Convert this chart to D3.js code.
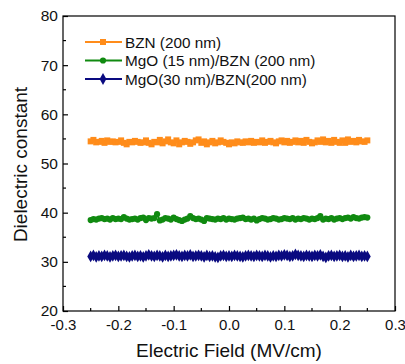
<!DOCTYPE html>
<html><head><meta charset="utf-8">
<script src="https://cdn.jsdelivr.net/npm/d3@7"></script>
<style>body{margin:0;background:#fff;} text{font-family:"Liberation Sans",Arial,sans-serif;}</style>
</head><body>
<svg id="c" width="405" height="364"></svg>
<script>
const xStart = -0.25, xStep = 0.005;
const bzn = [54.5,54.8,54.3,54.4,54.6,54.2,54.7,54.4,54.5,54.3,
54.4,54.7,54.2,53.9,54.4,54.3,54.6,54.4,54.2,54.3,
54.7,54.2,53.9,54.4,54.3,54.8,54.1,54.5,54.9,54.3,
54.1,54.7,53.9,54.3,54.6,54.4,54.0,54.3,54.7,54.9,
54.2,54.5,53.9,54.3,54.6,54.1,54.3,54.7,54.4,54.2,
53.9,54.3,54.1,54.5,54.3,54.2,54.5,54.3,54.6,54.2,
54.4,54.3,54.7,54.2,54.4,54.6,54.3,54.1,54.5,54.7,
54.3,54.6,54.2,54.4,54.7,54.3,54.6,54.2,54.8,54.4,
54.1,54.3,54.7,54.4,54.9,54.3,54.6,54.2,54.8,54.4,
54.2,54.7,54.2,54.9,54.4,54.6,54.3,54.8,54.5,54.4,54.7];
const mgo15 = [38.5,38.7,38.6,38.8,38.9,38.7,38.8,38.6,38.9,38.7,
38.8,38.7,39.1,38.8,38.6,38.7,38.8,38.6,38.9,39.0,
38.5,38.9,38.8,38.9,39.7,38.4,38.6,38.9,38.8,38.6,
39.0,38.7,38.5,38.3,38.6,38.8,39.3,38.9,38.7,38.8,
38.6,38.3,38.9,38.8,38.7,38.6,38.8,38.7,38.9,38.6,
38.8,38.7,38.6,38.8,38.9,39.0,38.7,38.8,38.6,38.8,
38.4,38.7,38.9,38.8,38.6,38.7,38.9,38.8,38.6,38.7,
38.9,38.8,38.7,38.9,38.6,38.8,38.7,38.9,38.8,38.6,
38.8,38.7,38.9,39.3,38.6,38.8,38.7,38.9,38.6,38.8,
38.9,38.7,38.9,39.0,38.8,39.1,38.9,38.8,39.0,39.1,39.0];
const mgo30 = [31.1,31.3,31.0,31.2,31.1,31.3,31.2,31.0,31.2,31.3,
31.1,31.2,31.3,31.1,31.0,31.2,31.3,31.1,31.2,31.0,
31.2,31.4,31.2,31.1,31.3,31.2,31.0,31.3,31.1,31.2,
31.3,31.4,31.2,31.1,31.3,31.2,31.4,31.1,31.2,31.3,
31.2,31.0,31.3,31.1,31.2,31.0,30.9,31.2,31.3,31.1,
31.2,31.1,31.3,31.2,31.1,31.0,31.2,31.3,31.2,31.1,
31.3,31.2,31.1,31.3,31.2,31.0,31.2,31.1,31.3,31.2,
31.4,31.3,31.1,31.2,31.5,31.3,31.2,31.1,31.3,31.2,
31.1,31.3,31.2,31.4,31.1,30.9,31.2,31.3,31.1,31.2,
31.3,31.1,31.2,31.0,31.3,31.1,31.2,31.3,31.1,31.2,31.1];
const seriesNames = ["BZN (200 nm)", "MgO (15 nm)/BZN (200 nm)", "MgO(30 nm)/BZN(200 nm)"];
const xTicks = [-0.3,-0.2,-0.1,0.0,0.1,0.2,0.3];
const yTicks = [20,30,40,50,60,70,80];

const colors = ["#ff8c1a","#108a10","#0a0a80"];
const symbols = [d3.symbolSquare, d3.symbolCircle, d3.symbolDiamond];
const symSizes = [36, 30, 40];
const series = [bzn, mgo15, mgo30];

const svg = d3.select("#c");
const L=63, R=395, T=16, B=311;
const x = d3.scaleLinear().domain([-0.3,0.3]).range([L,R]);
const y = d3.scaleLinear().domain([20,80]).range([B,T]);

svg.append("rect").attr("x",L).attr("y",T).attr("width",R-L).attr("height",B-T)
  .attr("fill","none").attr("stroke","#000").attr("stroke-width",1.2);

const fmt = d => d3.format(".1f")(d).replace("\u2212","-");
const xa = svg.append("g").attr("transform",`translate(0,${B})`);
xa.call(d3.axisBottom(x).tickValues(xTicks).tickFormat(fmt).tickSize(-5).tickPadding(8));
xa.select(".domain").remove();
xa.call(g=>g.selectAll(".tick line").attr("stroke","#000").attr("stroke-width",1.2));
xa.selectAll("text").attr("font-size",15).attr("fill","#111");
const xm = d3.range(-0.25,0.3,0.1);
svg.append("g").selectAll("line").data(xm).join("line")
  .attr("x1",d=>x(d)).attr("x2",d=>x(d)).attr("y1",B).attr("y2",B-3).attr("stroke","#000").attr("stroke-width",1.2);

const ya = svg.append("g").attr("transform",`translate(${L},0)`);
ya.call(d3.axisLeft(y).tickValues(yTicks).tickSize(-5).tickPadding(5));
ya.select(".domain").remove();
ya.call(g=>g.selectAll(".tick line").attr("stroke","#000").attr("stroke-width",1.2));
ya.selectAll("text").attr("font-size",15.5).attr("fill","#111");
const ym = d3.range(25,80,10);
svg.append("g").selectAll("line").data(ym).join("line")
  .attr("y1",d=>y(d)).attr("y2",d=>y(d)).attr("x1",L).attr("x2",L+3).attr("stroke","#000").attr("stroke-width",1.2);

const line = d3.line().x((d,i)=>x(xStart+i*xStep)).y(d=>y(d));
series.forEach((s,k)=>{
  svg.append("path").datum(s).attr("d",line).attr("fill","none").attr("stroke",colors[k]).attr("stroke-width",2);
  svg.append("g").selectAll("path").data(s).join("path")
    .attr("transform",(d,i)=>`translate(${x(xStart+i*xStep)},${y(d)})`)
    .attr("d",d3.symbol().type(symbols[k]).size(symSizes[k]))
    .attr("fill",colors[k]);
});

const lg = svg.append("g");
seriesNames.forEach((n,k)=>{
  const yy = 42 + k*18.5;
  lg.append("line").attr("x1",85).attr("x2",122).attr("y1",yy).attr("y2",yy).attr("stroke",colors[k]).attr("stroke-width",1.8);
  lg.append("path").attr("transform",`translate(103,${yy})`).attr("d",d3.symbol().type(symbols[k]).size(symSizes[k])).attr("fill",colors[k]);
  lg.append("text").attr("x",125).attr("y",yy+5.5).attr("font-size",15.3).attr("fill","#111").text(n);
});

svg.append("text").attr("x",(L+R)/2).attr("y",357).attr("text-anchor","middle").attr("font-size",19).attr("fill","#111").text("Electric Field (MV/cm)");
svg.append("text").attr("transform",`translate(27,${(T+B)/2 + 1}) rotate(-90)`).attr("text-anchor","middle").attr("font-size",19).attr("fill","#111").text("Dielectric constant");
</script>
</body></html>
